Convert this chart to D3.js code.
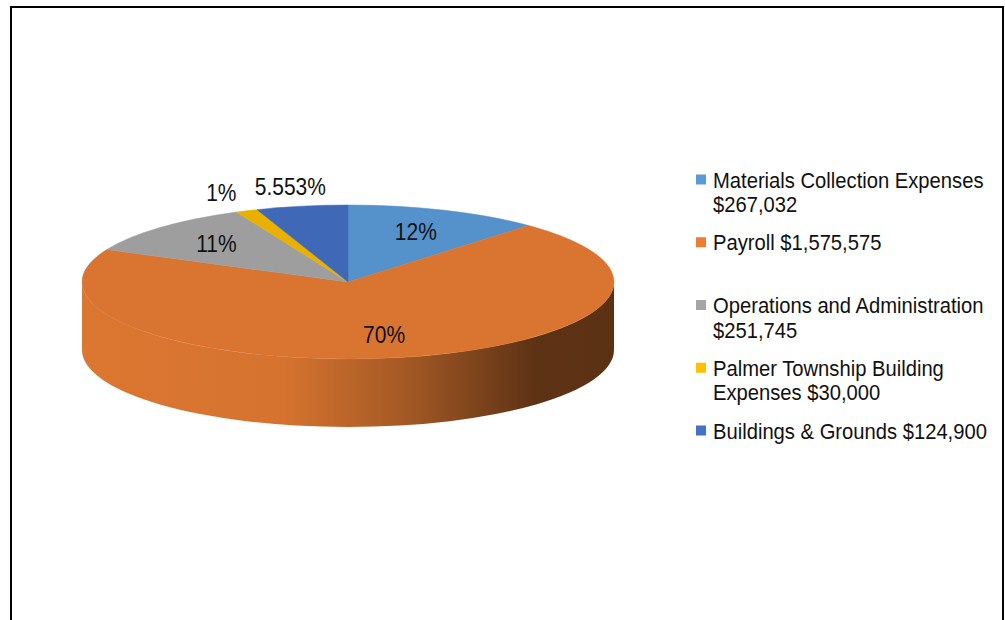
<!DOCTYPE html>
<html>
<head>
<meta charset="utf-8">
<script src="https://cdn.jsdelivr.net/npm/d3@7"></script>
<style>
  html, body { margin: 0; padding: 0; background: #fff; }
  svg { display: block; font-family: "Liberation Sans", Arial, sans-serif; }
</style>
</head>
<body>
<svg id="chart" width="1005" height="620"></svg>
<script>
// chart data
var categories = ["Materials Collection Expenses", "Payroll", "Operations and Administration",
                  "Palmer Township Building Expenses", "Buildings & Grounds"];
var amounts = [267032, 1575575, 251745, 30000, 124900];
var pctLabels = ["12%", "70%", "11%", "1%", "5.553%"];
var topColors = ["#5591cb", "#d97530", "#9e9e9e", "#eab000", "#3f69b6"];
var legendColors = ["#5B9BD5", "#ED7D31", "#A5A5A5", "#FFC000", "#4472C4"];

var W = 1005, H = 620;
var cx = 348, cy = 282, rx = 266, ry = 77, depth = 68;

var svg = d3.select("#chart");

// frame (bottom edge runs off the picture)
svg.append("path")
    .attr("d", "M11,620 L11,7 L1003,7 L1003,620")
    .attr("fill", "none")
    .attr("stroke", "#000")
    .attr("stroke-width", 2);

var defs = svg.append("defs");

var pie = d3.pie().sort(null).value(function(d){ return d; });
var arcs = pie(amounts);

function pt(a, dy){
    return [cx + rx * Math.sin(a), cy - ry * Math.cos(a) + (dy || 0)];
}

// side gradient for each slice: light on the left, dark brown on the right
topColors.forEach(function(c, i){
    var g = defs.append("linearGradient")
        .attr("id", "side" + i)
        .attr("gradientUnits", "userSpaceOnUse")
        .attr("x1", cx - rx).attr("x2", cx + rx)
        .attr("y1", 0).attr("y2", 0);
    var base = d3.color(c);
    var stops = [[0, base.brighter(0.04)], [0.38, base.darker(0.05)], [0.6, base.darker(0.75)],
                 [0.85, base.darker(2.35)], [1, base.darker(2.45)]];
    stops.forEach(function(s){
        g.append("stop").attr("offset", s[0]).attr("stop-color", s[1]);
    });
});

// sides: only the front half (90deg..270deg) shows
var sideG = svg.append("g");
arcs.forEach(function(a, i){
    var s = Math.max(a.startAngle, Math.PI / 2);
    var e = Math.min(a.endAngle, Math.PI * 1.5);
    if (e <= s) return;
    var p0 = pt(s), p1 = pt(e), q1 = pt(e, depth), q0 = pt(s, depth);
    var d = "M" + p0 + " A" + rx + "," + ry + " 0 0 1 " + p1 +
            " L" + q1 + " A" + rx + "," + ry + " 0 0 0 " + q0 + " Z";
    sideG.append("path")
        .attr("d", d)
        .attr("fill", "url(#side" + i + ")");
});

// top faces
var topG = svg.append("g");
arcs.forEach(function(a, i){
    var p0 = pt(a.startAngle), p1 = pt(a.endAngle);
    var large = (a.endAngle - a.startAngle) > Math.PI ? 1 : 0;
    var d = "M" + cx + "," + cy + " L" + p0 + " A" + rx + "," + ry + " 0 " + large + " 1 " + p1 + " Z";
    topG.append("path")
        .attr("d", d)
        .attr("fill", topColors[i])
        .attr("stroke", topColors[i])
        .attr("stroke-width", 0.5);
});

// data labels
var total = d3.sum(amounts);
function labelPos(d){
    var m = (d.startAngle + d.endAngle) / 2;
    var f = d.value / total < 0.06 ? 1.25 : 0.7;
    return [cx + rx * f * Math.sin(m), cy - ry * f * Math.cos(m)];
}
svg.append("g").selectAll("text")
    .data(arcs)
    .enter()
    .append("text")
    .attr("transform", function(d){
        var p = labelPos(d);
        return "translate(" + p + ") scale(1,1.1)";
    })
    .attr("text-anchor", "middle")
    .attr("dominant-baseline", "central")
    .attr("font-size", 21)
    .attr("fill", "#111")
    .text(function(d, i){ return pctLabels[i]; });

// legend
var fmt = d3.format(",");
var legend = svg.append("g");
var legX = 696, legY = 180, legStep = 62.75, lineH = 24.5, maxW = 285;
categories.forEach(function(c, i){
    var y = legY + i * legStep;
    legend.append("rect")
        .attr("x", legX).attr("y", y - 5.5)
        .attr("width", 10).attr("height", 10)
        .attr("fill", legendColors[i]);
    var t = legend.append("text")
        .attr("transform", "translate(" + (legX + 17) + "," + y + ") scale(1,1.05)")
        .attr("font-size", 20.2)
        .attr("fill", "#111");
    var words = (c + " $" + fmt(amounts[i])).split(" ");
    var line = [], n = 0;
    var ts = t.append("tspan").attr("x", 0).attr("y", 0).attr("dominant-baseline", "central");
    words.forEach(function(w){
        line.push(w);
        ts.text(line.join(" "));
        if (ts.node().getComputedTextLength() > maxW && line.length > 1) {
            line.pop();
            ts.text(line.join(" "));
            line = [w];
            n++;
            ts = t.append("tspan").attr("x", 0).attr("y", n * lineH / 1.05)
                .attr("dominant-baseline", "central").text(w);
        }
    });
});
</script>
</body>
</html>
